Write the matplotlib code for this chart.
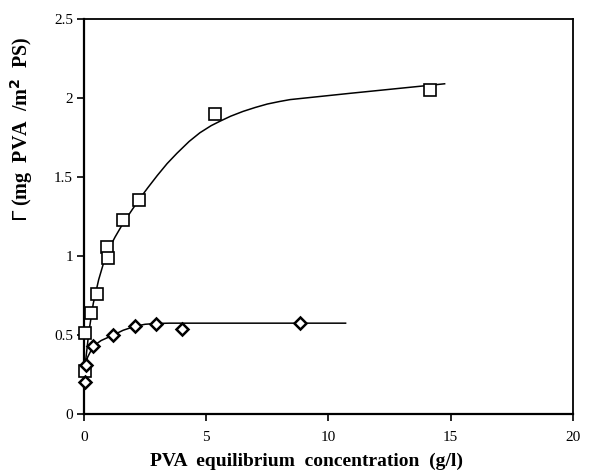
import matplotlib.pyplot as plt

plt.rcParams['font.family'] = ['Liberation Serif', 'DejaVu Serif']

# Measured adsorption points (square series)
sq_conc = [0.04, 0.04, 0.29, 0.52, 0.93, 1.0, 1.61, 2.26, 5.36, 14.15]
sq_gamma = [0.27, 0.515, 0.64, 0.76, 1.055, 0.985, 1.228, 1.354, 1.90, 2.05]

# Measured adsorption points (diamond series)
dm_conc = [0.04, 0.1, 0.38, 1.2, 2.08, 2.94, 4.0, 8.83]
dm_gamma = [0.2, 0.31, 0.43, 0.5, 0.557, 0.57, 0.54, 0.578]

# Fitted curve through the square series
sq_fit_x = [0.0, 0.04, 0.2, 0.38, 0.6, 0.79, 1.0, 1.27, 1.61, 2.0, 2.29,
            2.6, 3.0, 3.4, 3.8, 4.3, 4.74, 5.2, 5.56, 6.0, 6.5, 7.0, 7.5,
            8.0, 8.43, 10.9, 14.75]
sq_fit_y = [0.24, 0.3, 0.52, 0.70, 0.85, 0.95, 1.04, 1.12, 1.21, 1.30, 1.365,
            1.43, 1.51, 1.585, 1.65, 1.725, 1.78, 1.825, 1.853, 1.885, 1.915,
            1.94, 1.962, 1.978, 1.99, 2.03, 2.09]

# Fitted curve through the diamond series
dm_fit_x = [0.0, 0.04, 0.15, 0.38, 0.7, 1.2, 1.6, 2.08, 2.5, 2.94, 3.5, 10.7]
dm_fit_y = [0.26, 0.30, 0.36, 0.43, 0.465, 0.5, 0.53, 0.555, 0.568, 0.573, 0.575, 0.575]

fig = plt.figure(figsize=(5.89, 4.73), dpi=100)
ax = fig.add_axes([0.1426, 0.1247, 0.8302, 0.8351])

ax.plot(sq_fit_x, sq_fit_y, color='black', linewidth=1.1, clip_on=False)
ax.plot(dm_fit_x, dm_fit_y, color='black', linewidth=1.1, clip_on=False)
ax.plot(sq_conc, sq_gamma, linestyle='none', marker='s', markersize=8,
        markerfacecolor='white', markeredgecolor='black', markeredgewidth=1.2,
        clip_on=False, zorder=4)
ax.plot(dm_conc, dm_gamma, linestyle='none', marker='D', markersize=6,
        markerfacecolor='white', markeredgecolor='black', markeredgewidth=1.8,
        clip_on=False, zorder=5)

ax.set_xlim(0, 20)
ax.set_ylim(0, 2.5)
ax.set_xticks([0, 5, 10, 15, 20])
ax.set_xticklabels(['0', '5', '10', '15', '20'])
ax.set_yticks([0, 0.5, 1, 1.5, 2, 2.5])
ax.set_yticklabels(['0', '0.5', '1', '1.5', '2', '2.5'])
ax.tick_params(direction='out', length=5, width=1.2, labelsize=11,
               top=False, right=False)
ax.tick_params(axis='x', pad=7)
ax.tick_params(axis='y', pad=3)
for side in ['left', 'bottom']:
    ax.spines[side].set_linewidth(1.6)
for side in ['top', 'right']:
    ax.spines[side].set_linewidth(1.3)

ax.set_xlabel('PVA  equilibrium  concentration  (g/l)', fontsize=14,
              fontweight='bold')
ax.xaxis.set_label_coords(0.456, -0.12, transform=ax.transAxes)
ax.xaxis.label.set_va('center')
ax.set_ylabel(r'$\Gamma$ (mg  PVA  /m$^{\mathbf{2}}$  PS)', fontsize=14.5,
              fontweight='bold')
ax.yaxis.set_label_coords(-0.128, 0.72, transform=ax.transAxes)
ax.yaxis.label.set_va('center')

fig.savefig('out.png', dpi=100)
